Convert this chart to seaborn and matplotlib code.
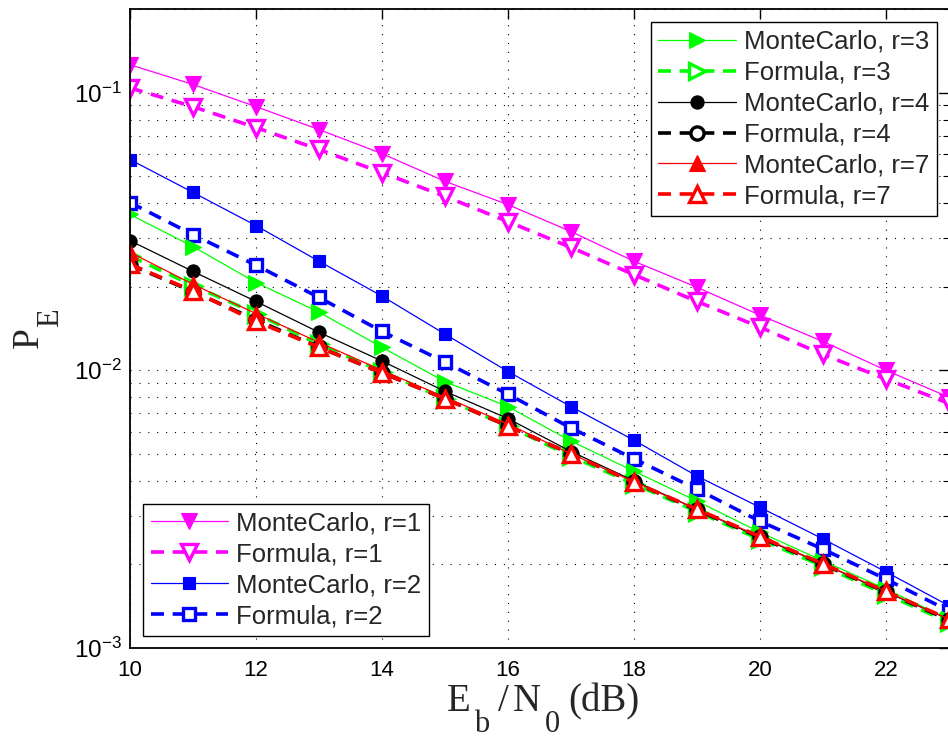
import numpy as np
import pandas as pd
import matplotlib
matplotlib.use("Agg")
import matplotlib.pyplot as plt
import seaborn as sns
from matplotlib.ticker import LogLocator, FixedLocator, NullFormatter

# ---------------- data ----------------
ebn0 = [10, 11, 12, 13, 14, 15, 16, 17, 18, 19, 20, 21, 22, 23]

mc_r1 = [0.126, 0.107, 0.089, 0.0736, 0.0603, 0.0479, 0.0395, 0.0316, 0.0247, 0.0199, 0.0158, 0.0127, 0.0100, 0.0080]
f_r1 = [0.104, 0.089, 0.0748, 0.0624, 0.0515, 0.0423, 0.0343, 0.0277, 0.0221, 0.0177, 0.0143, 0.0114, 0.0093, 0.0076]
mc_r2 = [0.0574, 0.0437, 0.0332, 0.0247, 0.0185, 0.0135, 0.0099, 0.0074, 0.0056, 0.00416, 0.00321, 0.00247, 0.00188, 0.00142]
f_r2 = [0.0402, 0.0308, 0.0239, 0.0183, 0.0138, 0.0107, 0.0082, 0.0062, 0.0048, 0.00373, 0.00286, 0.00227, 0.00177, 0.00136]
mc_r3 = [0.0364, 0.0279, 0.0207, 0.0162, 0.0121, 0.0091, 0.0074, 0.00556, 0.00433, 0.00338, 0.00261, 0.00206, 0.00163, 0.00127]
f_r3 = [0.0258, 0.0202, 0.0160, 0.0124, 0.0099, 0.0079, 0.0063, 0.0049, 0.0039, 0.0031, 0.00246, 0.00197, 0.00156, 0.00124]
mc_r4 = [0.0293, 0.0227, 0.0177, 0.0137, 0.0108, 0.0084, 0.0067, 0.0051, 0.0040, 0.00316, 0.0025, 0.00201, 0.00159, 0.00127]
f_r4 = [0.0240, 0.0192, 0.0152, 0.0121, 0.0098, 0.0079, 0.0063, 0.0050, 0.00395, 0.00314, 0.0025, 0.0020, 0.00159, 0.00126]
mc_r7 = [0.0266, 0.0204, 0.0160, 0.0126, 0.0100, 0.0080, 0.0064, 0.0050, 0.00397, 0.00316, 0.00252, 0.00201, 0.0016, 0.00127]
f_r7 = [0.0241, 0.0193, 0.0150, 0.0121, 0.0098, 0.0079, 0.0063, 0.0050, 0.00395, 0.00316, 0.00252, 0.00201, 0.0016, 0.00127]

labels_mc = ["MonteCarlo, r=1", "MonteCarlo, r=2", "MonteCarlo, r=3", "MonteCarlo, r=4", "MonteCarlo, r=7"]
labels_f = ["Formula, r=1", "Formula, r=2", "Formula, r=3", "Formula, r=4", "Formula, r=7"]
x_ticks = [10, 12, 14, 16, 18, 20, 22]
# axis label pieces: (text, is_subscript)
x_label_parts = [("E", False), ("b", True), ("/", False), ("N", False), ("0", True), ("(dB)", False)]
y_label_parts = [("P", False), ("E", True)]

# ---------------- style ----------------
sns.set_style("white")
plt.rcParams["font.family"] = ["Liberation Sans", "DejaVu Sans"]

W, H = 948, 740
fig = plt.figure(figsize=(W / 100, H / 100), dpi=100)
ax = fig.add_axes([130 / W, 1 - 648 / H, 1 - 130 / W + 0.001, (648 - 9) / H])

colors = ["#ff00ff", "#0000ff", "#00ff00", "#000000", "#ff0000"]
mc_markers = ["v", "s", ">", "o", "^"]
mc_sizes = [12, 8.5, 12, 9.5, 12]
f_sizes = [12, 9, 11, 9.5, 12]
mc_series = [mc_r1, mc_r2, mc_r3, mc_r4, mc_r7]
f_series = [f_r1, f_r2, f_r3, f_r4, f_r7]

for i in range(5):
    df_mc = pd.DataFrame({"x": ebn0, "y": mc_series[i]})
    df_f = pd.DataFrame({"x": ebn0, "y": f_series[i]})
    sns.lineplot(data=df_mc, x="x", y="y", ax=ax, color=colors[i], linewidth=0.9,
                 marker=mc_markers[i], markersize=mc_sizes[i], markeredgecolor=colors[i],
                 markerfacecolor=colors[i], markeredgewidth=0.8, label=labels_mc[i],
                 legend=False, errorbar=None)
    sns.lineplot(data=df_f, x="x", y="y", ax=ax, color=colors[i], linewidth=2.6,
                 linestyle=(0, (3.6, 2.4)), marker=mc_markers[i], markersize=f_sizes[i],
                 markeredgecolor=colors[i], markerfacecolor="white", markeredgewidth=2.4,
                 label=labels_f[i], legend=False, errorbar=None)

by_label = {ln.get_label(): ln for ln in ax.get_lines()}

ax.set_yscale("log")
ax.set_xlim(10, 23)
ax.set_ylim(1e-3, 0.2)
ax.xaxis.set_major_locator(FixedLocator(x_ticks))
ax.yaxis.set_major_locator(LogLocator(base=10, numticks=10))
ax.yaxis.set_minor_locator(LogLocator(base=10, subs=np.arange(2, 10), numticks=20))
ax.yaxis.set_minor_formatter(NullFormatter())

grid_kw = dict(color="black", linestyle=(0, (1, 7)), linewidth=0.8)
ax.grid(True, which="major", axis="both", **grid_kw)
ax.grid(True, which="minor", axis="y", **grid_kw)

ax.tick_params(axis="both", which="both", direction="in", top=True, right=True,
               color="black", labelcolor="black")
ax.tick_params(axis="x", which="major", labelsize=16, pad=9)
ax.tick_params(axis="y", which="major", labelsize=17.5, pad=6)
ax.tick_params(axis="both", which="major", length=7, width=1)
ax.tick_params(axis="y", which="minor", length=4, width=0.8)
for s in ax.spines.values():
    s.set_visible(True)
    s.set_color("black")
    s.set_linewidth(1.3)

ax.set_xlabel("")
ax.set_ylabel("")

# axis labels drawn as text pieces (serif, large subscripts like the original)
serif = ["Liberation Serif", "DejaVu Serif"]
x_pos = [447, 474, 498, 513, 545, 568]
for (txt, sub), px in zip(x_label_parts, x_pos):
    fig.text(px / W, 1 - (732 if sub else 711) / H, txt, family=serif,
             fontsize=22 if sub else 28, ha="left", va="baseline")
y_pos = [(38, 348), (58, 327)]
for (txt, sub), (px, py) in zip(y_label_parts, y_pos):
    fig.text(px / W, 1 - py / H, txt, family=serif, fontsize=22 if sub else 27,
             rotation=90, rotation_mode="anchor", ha="left", va="baseline")

leg_kw = dict(fontsize=18.5, frameon=True, fancybox=False, edgecolor="black",
              framealpha=1, handlelength=3.0, labelspacing=0.27, borderpad=0.3,
              handletextpad=0.33, borderaxespad=0)
top_labels = ["MonteCarlo, r=3", "Formula, r=3", "MonteCarlo, r=4",
              "Formula, r=4", "MonteCarlo, r=7", "Formula, r=7"]
leg1 = ax.legend([by_label[l] for l in top_labels], top_labels,
                 loc="upper right", bbox_to_anchor=(937 / W, 1 - 22 / H),
                 bbox_transform=fig.transFigure, **leg_kw)
leg1.get_frame().set_linewidth(1.0)
ax.add_artist(leg1)
bot_labels = ["MonteCarlo, r=1", "Formula, r=1", "MonteCarlo, r=2", "Formula, r=2"]
leg2 = ax.legend([by_label[l] for l in bot_labels], bot_labels,
                 loc="lower left", bbox_to_anchor=(143 / W, 1 - 636 / H),
                 bbox_transform=fig.transFigure, **leg_kw)
leg2.get_frame().set_linewidth(1.0)

fig.savefig("out.png", dpi=100)
